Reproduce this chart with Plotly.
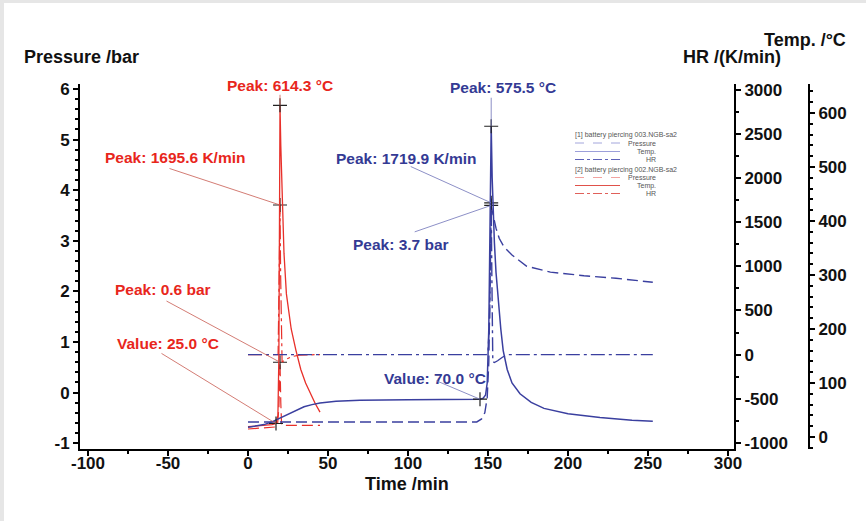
import plotly.graph_objects as go

# ---------------- data ----------------
# [1] battery piercing 003 (blue)
b_p_t = [0, 100, 143, 146, 148, 149.5, 150.5, 151.3, 152, 152.6, 153.5, 155, 157, 160, 165, 174, 189, 210, 230, 253]
b_p_v = [-0.58, -0.58, -0.58, -0.52, -0.4, -0.1, 0.6, 2.2, 3.7, 3.6, 3.45, 3.25, 3.05, 2.88, 2.72, 2.5, 2.38, 2.31, 2.26, 2.18]

b_T_t = [0, 5, 10, 15, 20, 25, 30, 35, 40, 45, 55, 70, 100, 140, 145, 147, 148.5, 149.5, 150.5, 151.3, 152,
         152.6, 153, 154, 155, 156.5, 158, 159.5, 162, 165, 170, 177, 185, 200, 220, 240, 253]
b_T_v = [18, 20, 23, 28, 35, 43, 50, 56, 60, 63, 66, 68, 69, 70, 70, 72, 78, 100, 200, 400, 575.5,
         480, 430, 360, 305, 250, 200, 160, 125, 100, 80, 64, 53, 43, 36, 31, 29]

b_H_t = [0, 149, 150, 151, 151.6, 152, 152.4, 153, 154, 156, 159, 162, 253]
b_H_v = [0, 0, 30, 400, 1200, 1719.9, 900, -80, -90, -70, -30, 0, 0]

# [2] battery piercing 002 (red)
r_p_t = [0, 10, 17, 18.5, 19.3, 19.7, 20, 20.5, 21, 25, 35, 45]
r_p_v = [-0.72, -0.7, -0.68, -0.62, -0.3, 0.2, 0.6, -0.2, -0.64, -0.65, -0.65, -0.65]

r_T_t = [0, 5, 10, 15, 17.5, 18.7, 19.3, 19.7, 20, 20.5, 21.5, 22.5, 24, 27, 30, 33, 36, 39, 42, 45]
r_T_v = [19, 20, 21, 23, 25, 40, 150, 400, 614.3, 540, 430, 340, 265, 200, 160, 125, 100, 80, 62, 46]

r_H_t = [0, 18.8, 19.4, 20, 20.4, 20.8, 21.3, 23, 27, 32, 45]
r_H_v = [0, 0, 800, 1695.6, 900, 100, -85, -60, -25, -5, 0]

# evaluation markers: (time, value)
red_marks = {"temp_peak": (20, 614.3), "hr_peak": (20, 1695.6), "p_peak": (20, 0.6), "temp_val": (17.5, 25.0)}
blue_marks = {"temp_peak": (152, 575.5), "hr_peak": (152, 1719.9), "p_peak": (152, 3.7), "temp_val": (145, 70.0)}

x_ticks = [-100, -50, 0, 50, 100, 150, 200, 250, 300]
p_ticks = [-1, 0, 1, 2, 3, 4, 5, 6]
hr_ticks = [-1000, -500, 0, 500, 1000, 1500, 2000, 2500, 3000]
t_ticks = [0, 100, 200, 300, 400, 500, 600]

legend_groups = ["[1] battery piercing 003.NGB-sa2", "[2] battery piercing 002.NGB-sa2"]
legend_items = ["Pressure", "Temp.", "HR"]

BLUE = "#3a3f9f"
BLUE_TXT = "#343a94"
RED = "#e8302a"
RED_TXT = "#e8261c"
FONT = "Liberation Sans, Arial, sans-serif"

DASH_P = "11px,5px"
DASH_H = "14px,4px,3px,4px"


def hyph(v):
    return str(v).replace("−", "-")


fig = go.Figure()

# red first (drawn underneath)
fig.add_trace(go.Scatter(x=r_p_t, y=r_p_v, yaxis="y", mode="lines", name="Pressure",
                         line=dict(color=RED, width=1.2, dash=DASH_P)))
fig.add_trace(go.Scatter(x=r_T_t, y=r_T_v, yaxis="y3", mode="lines", name="Temp.",
                         line=dict(color=RED, width=1.3)))
fig.add_trace(go.Scatter(x=r_H_t, y=r_H_v, yaxis="y2", mode="lines", name="HR",
                         line=dict(color=RED, width=1.2, dash=DASH_H)))

fig.add_trace(go.Scatter(x=b_p_t, y=b_p_v, yaxis="y", mode="lines", name="Pressure",
                         line=dict(color=BLUE, width=1.4, dash=DASH_P)))
fig.add_trace(go.Scatter(x=b_T_t, y=b_T_v, yaxis="y3", mode="lines", name="Temp.",
                         line=dict(color=BLUE, width=1.5)))
fig.add_trace(go.Scatter(x=b_H_t, y=b_H_v, yaxis="y2", mode="lines", name="HR",
                         line=dict(color=BLUE, width=1.4, dash=DASH_H)))

# cross markers
mk = dict(symbol="cross-thin", size=10, line=dict(color="#222222", width=1.2))
for marks in (red_marks, blue_marks):
    fig.add_trace(go.Scatter(x=[marks["temp_peak"][0], marks["temp_val"][0]],
                             y=[marks["temp_peak"][1], marks["temp_val"][1]],
                             yaxis="y3", mode="markers", marker=mk, hoverinfo="skip"))
    fig.add_trace(go.Scatter(x=[marks["hr_peak"][0]], y=[marks["hr_peak"][1]],
                             yaxis="y2", mode="markers", marker=mk, hoverinfo="skip"))
    fig.add_trace(go.Scatter(x=[marks["p_peak"][0]], y=[marks["p_peak"][1]],
                             yaxis="y", mode="markers", marker=mk, hoverinfo="skip"))

# ---------------- annotations ----------------
L, T, PW, PH = 80, 84, 729, 365  # plot area in px


def px(xp):
    return (xp - L) / PW


def py(yp):
    return (T + PH - yp) / PH


annotations = []
shapes = []


def label(text, cx, cy, color):
    annotations.append(dict(xref="paper", yref="paper", x=px(cx), y=py(cy), text=text, showarrow=False,
                            xanchor="center", yanchor="middle",
                            font=dict(family=FONT, size=15.5, color=color, weight="bold")))


def leader(mark, yref, dx, dy, color):
    annotations.append(dict(x=mark[0], y=mark[1], xref="x", yref=yref, text="", showarrow=True,
                            ax=dx, ay=dy, arrowhead=0, arrowwidth=0.8, arrowcolor=color,
                            standoff=0, startstandoff=0))


LC_R = "#c85a50"
LC_B = "#6f72b8"
# red labels
label("Peak: 614.3 °C", 280, 86, RED_TXT)
leader(red_marks["temp_peak"], "y3", 0, -12, LC_R)
label("Peak: 1695.6 K/min", 175, 157, RED_TXT)
leader(red_marks["hr_peak"], "y2", -112, -37, LC_R)
label("Peak: 0.6 bar", 163, 289, RED_TXT)
leader(red_marks["p_peak"], "y", -115, -62, LC_R)
label("Value: 25.0 °C", 168, 343, RED_TXT)
leader(red_marks["temp_val"], "y3", -116, -71, LC_R)
# blue labels
label("Peak: 575.5 °C", 503, 88, BLUE_TXT)
leader(blue_marks["temp_peak"], "y3", 0, -30, LC_B)
label("Peak: 1719.9 K/min", 406, 158, BLUE_TXT)
leader(blue_marks["hr_peak"], "y2", -82, -37, LC_B)
label("Peak: 3.7 bar", 401, 244, BLUE_TXT)
leader(blue_marks["p_peak"], "y", -78, 27, LC_B)
label("Value: 70.0 °C", 435, 378, BLUE_TXT)
leader(blue_marks["temp_val"], "y3", -45, -19, LC_B)

# axis titles
tf = dict(family=FONT, size=18, color="#111111", weight="bold")
annotations.append(dict(xref="paper", yref="paper", x=px(22), y=py(57), text="Pressure /bar", showarrow=False,
                        xanchor="left", yanchor="middle", font=tf))
annotations.append(dict(xref="paper", yref="paper", x=px(783), y=py(57), text="HR /(K/min)", showarrow=False,
                        xanchor="right", yanchor="middle", font=tf))
annotations.append(dict(xref="paper", yref="paper", x=px(848), y=py(40), text="Temp. /°C", showarrow=False,
                        xanchor="right", yanchor="middle", font=tf))
annotations.append(dict(xref="paper", yref="paper", x=px(407), y=py(484), text="Time /min", showarrow=False,
                        xanchor="center", yanchor="middle", font=tf, borderpad=0))

# ---------------- manual legend ----------------
lf = dict(family=FONT, size=7, color="#555555")
leg_colors = [["#a3a6dc", "#9c9fd9", "#5d61b8"], ["#f2a3a0", "#e0514a", "#e0605a"]]
leg_dash = ["dash", "solid", "dashdot"]
row_y = [[134.5, 143, 151.5, 159.5], [169.5, 177.5, 185.5, 193.5]]
for g in range(2):
    annotations.append(dict(xref="paper", yref="paper", x=px(574), y=py(row_y[g][0]), text=legend_groups[g],
                            showarrow=False, xanchor="left", yanchor="middle", font=lf, borderpad=0))
    for i, name in enumerate(legend_items):
        yy = row_y[g][i + 1]
        shapes.append(dict(type="line", xref="paper", yref="paper", x0=px(575), x1=px(620), y0=py(yy), y1=py(yy),
                           line=dict(color=leg_colors[g][i], width=1, dash=leg_dash[i])))
        annotations.append(dict(xref="paper", yref="paper", x=px(657), y=py(yy), text=name,
                                showarrow=False, xanchor="right", yanchor="middle", font=lf, borderpad=0))

# gray frame strips
shapes.append(dict(type="rect", xref="paper", yref="paper", x0=px(0), x1=px(4), y0=py(521), y1=py(0),
                   fillcolor="#e6e6e6", line=dict(width=0), layer="below"))
shapes.append(dict(type="rect", xref="paper", yref="paper", x0=px(0), x1=px(866), y0=py(3), y1=py(0),
                   fillcolor="#e6e6e6", line=dict(width=0), layer="below"))

tickfont = dict(family=FONT, size=17, color="#111111", weight="bold")
axis_common = dict(showline=True, linecolor="black", linewidth=2, ticks="outside", tickcolor="black",
                   tickwidth=1.5, ticklen=5, showgrid=False, zeroline=False, tickfont=tickfont,
                   tickmode="array")

x_end = (734 - L) / PW

fig.update_layout(
    width=866, height=521, autosize=False,
    margin=dict(l=L, r=866 - L - PW, t=T, b=521 - T - PH),
    paper_bgcolor="white", plot_bgcolor="white",
    font=dict(family=FONT),
    showlegend=False,
    xaxis=dict(domain=[0, x_end], range=[-105, 303.75], tickvals=x_ticks, ticktext=[hyph(v) for v in x_ticks],
               ticklabelstandoff=-7,
               minor=dict(dtick=25, ticklen=3, tickcolor="black", ticks="outside"), anchor="y", **axis_common),
    yaxis=dict(range=[-1.115, 6.099], tickvals=p_ticks, ticktext=[hyph(v) for v in p_ticks], anchor="x",
               minor=dict(dtick=0.2, ticklen=3, tickcolor="black", ticks="outside"), **axis_common),
    yaxis2=dict(range=[-1070, 3067], tickvals=hr_ticks, ticktext=[hyph(v) for v in hr_ticks],
                overlaying="y", side="right", anchor="x",
                minor=dict(dtick=250, ticklen=3, tickcolor="black", ticks="outside"), **axis_common),
    yaxis3=dict(range=[-22.2, 653.7], tickvals=t_ticks, ticktext=[hyph(v) for v in t_ticks],
                overlaying="y", side="right", anchor="free", position=1,
                minor=dict(dtick=20, ticklen=3, tickcolor="black", ticks="outside"), **axis_common),
    annotations=annotations,
    shapes=shapes,
)

fig.write_html("out.html")
